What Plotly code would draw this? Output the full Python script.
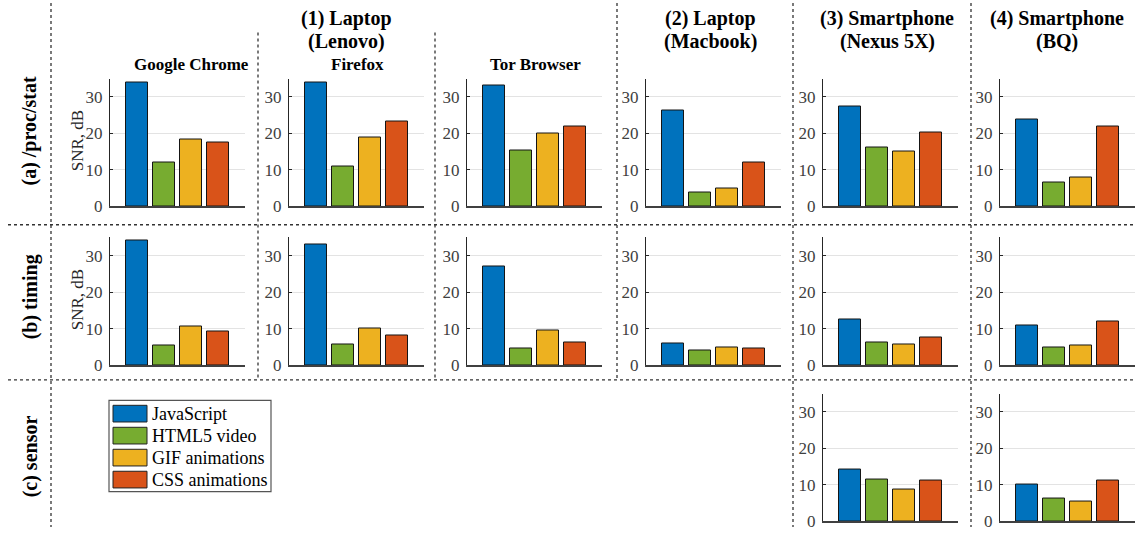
import plotly.graph_objects as go

W, H = 1135, 537
FONT = "Liberation Serif, Times New Roman, serif"

# ---------------- data ----------------
series = ["JavaScript", "HTML5 video", "GIF animations", "CSS animations"]
colors = ["#0072BD", "#77AC30", "#EDB120", "#D95319"]

column_titles = ["Google Chrome", "Firefox", "Tor Browser",
                 "(2) Laptop (Macbook)", "(3) Smartphone (Nexus 5X)", "(4) Smartphone (BQ)"]
row_titles = ["(a) /proc/stat", "(b) timing", "(c) sensor"]
y_ticks = [0, 10, 20, 30]

# values per column: Chrome, Firefox, Tor, Macbook, Nexus 5X, BQ
procstat_javascript = [33.8, 33.8, 33.0, 26.3, 27.2, 23.8]
procstat_html5 = [11.9, 10.9, 15.2, 3.8, 16.0, 6.6]
procstat_gif = [18.4, 18.7, 19.9, 4.8, 15.0, 7.9]
procstat_css = [17.5, 23.3, 21.7, 11.9, 20.3, 21.8]

timing_javascript = [34.3, 33.1, 27.1, 6.0, 12.4, 10.9]
timing_html5 = [5.3, 5.6, 4.5, 4.1, 6.3, 4.7]
timing_gif = [10.6, 10.1, 9.5, 4.7, 5.7, 5.4]
timing_css = [9.1, 8.0, 6.3, 4.5, 7.5, 11.9]

sensor_javascript = [None, None, None, None, 14.2, 10.1]
sensor_html5 = [None, None, None, None, 11.4, 6.2]
sensor_gif = [None, None, None, None, 8.7, 5.3]
sensor_css = [None, None, None, None, 11.2, 11.1]

rows = [
    [procstat_javascript, procstat_html5, procstat_gif, procstat_css],
    [timing_javascript, timing_html5, timing_gif, timing_css],
    [sensor_javascript, sensor_html5, sensor_gif, sensor_css],
]

# ---------------- layout geometry (pixels) ----------------
col_left = [110, 289, 467, 646, 823, 1000]
col_w = 135
row_top = [80, 242, 401]
row_h = 130


def px(x):
    return x / W


def py(y):
    return 1 - y / H


fig = go.Figure()
layout = {}
ax = 0
for r, row in enumerate(rows):
    for c in range(6):
        vals = [s[c] for s in row]
        if any(v is None for v in vals):
            continue
        ax += 1
        xa = "x" if ax == 1 else f"x{ax}"
        ya = "y" if ax == 1 else f"y{ax}"
        fig.add_trace(go.Bar(
            x=[1, 2, 3, 4], y=vals, width=0.8,
            marker=dict(color=colors, line=dict(color="#151515", width=1)),
            xaxis=xa, yaxis=ya, showlegend=False,
            hovertext=series,
        ))
        xk = "xaxis" if ax == 1 else f"xaxis{ax}"
        yk = "yaxis" if ax == 1 else f"yaxis{ax}"
        layout[xk] = dict(
            domain=[px(col_left[c]), min(1.0, px(col_left[c] + col_w))],
            anchor=ya, range=[0, 5], showticklabels=False, ticks="",
            showgrid=False, zeroline=False, showline=True,
            linecolor="#404040", linewidth=2, fixedrange=True,
        )
        layout[yk] = dict(
            domain=[py(row_top[r] + row_h), py(row_top[r])],
            anchor=xa, range=[0, 35], tickvals=y_ticks,
            showgrid=True, gridcolor="#e3e3e3", gridwidth=1,
            zeroline=False, showline=True, linecolor="#262626", linewidth=1,
            ticks="inside", ticklen=3, tickcolor="#262626",
            tickfont=dict(family=FONT, size=17, color="#404040"),
            ticklabelstandoff=3, fixedrange=True,
        )

# ---------------- dotted separators ----------------
shapes = []


def dline(x0, y0, x1, y1):
    shapes.append(dict(type="line", xref="paper", yref="paper",
                       x0=px(x0), y0=py(y0), x1=px(x1), y1=py(y1),
                       line=dict(color="#333333", width=1.3, dash="dot")))


dline(51, 3, 51, 537)
dline(258, 33, 258, 387)
dline(435, 33, 435, 387)
dline(617, 3, 617, 387)
dline(793, 3, 793, 537)
dline(971, 3, 971, 537)
dline(8, 229, 1135, 229)
dline(8, 387, 1135, 387)

# ---------------- legend (custom) ----------------
annotations = []
shapes.append(dict(type="rect", xref="paper", yref="paper",
                   x0=px(109), y0=py(501), x1=px(271), y1=py(408),
                   line=dict(color="#555555", width=1.2), fillcolor="white"))
for i, (name, col) in enumerate(zip(series, colors)):
    top = 413 + i * 22.4
    shapes.append(dict(type="rect", xref="paper", yref="paper",
                       x0=px(113), y0=py(top + 17), x1=px(147), y1=py(top),
                       line=dict(color="#222222", width=1), fillcolor=col))
    annotations.append(dict(text=name, xref="paper", yref="paper",
                            x=px(150), y=py(top + 8.5), xanchor="left", yanchor="middle",
                            showarrow=False, font=dict(family=FONT, size=18, color="black")))


def label(text, x, y, size, bold=True, angle=0, color="black"):
    annotations.append(dict(
        text=f"<b>{text}</b>" if bold else text, xref="paper", yref="paper",
        x=px(x), y=py(y), xanchor="center", yanchor="middle", showarrow=False,
        textangle=angle, font=dict(family=FONT, size=size, color=color)))


# device headers
label("(1) Laptop", 346, 19, 20)
label("(Lenovo)", 346, 42, 20)
for c, cx in zip(range(3, 6), [710, 887, 1057]):
    first, second = column_titles[c].split(" (")
    label(first, cx, 19, 20)
    label("(" + second, cx, 42, 20)

# browser subtitles
for c, cx in zip(range(3), [191, 357, 535]):
    label(column_titles[c], cx, 66, 17)

# row titles
for r, cy in enumerate([134, 303, 465]):
    label(row_titles[r], 30, cy, 20, angle=-90)

# y-axis titles
label("SNR, dB", 77, 144, 17, bold=False, angle=-90, color="#262626")
label("SNR, dB", 77, 306, 17, bold=False, angle=-90, color="#262626")

fig.update_layout(
    **layout,
    shapes=shapes, annotations=annotations,
    width=W, height=H, margin=dict(l=0, r=0, t=0, b=0),
    paper_bgcolor="white", plot_bgcolor="white",
    bargap=0, showlegend=False,
    font=dict(family=FONT),
)

fig.write_html(
    "out.html",
    config={"displayModeBar": False},
    post_script="document.body.style.margin='0';document.body.style.overflow='hidden';",
)
